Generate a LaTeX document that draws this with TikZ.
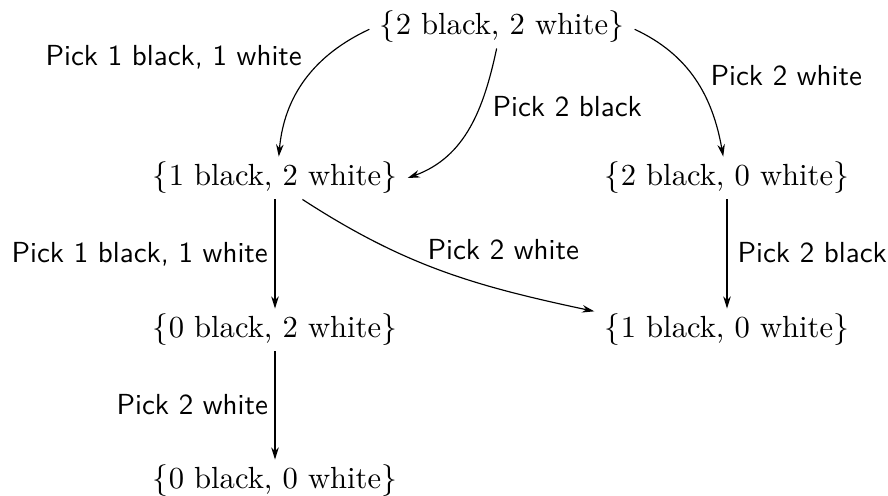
\documentclass[tikz,border=0pt]{standalone}
\usetikzlibrary{arrows.meta}
\tikzset{
  state/.style={font=\fontsize{10.55pt}{12pt}\selectfont, inner xsep=3.45pt, inner ysep=1.72pt},
  lbl/.style={font=\sffamily\fontsize{10pt}{12pt}\selectfont, inner sep=0pt, anchor=base west},
  arr/.style={-{Stealth[length=4.2pt,width=2.6pt]}, line width=0.4pt},
}
\begin{document}
\begin{tikzpicture}[x=0.3448pt,y=0.3448pt]
\useasboundingbox (0,0) rectangle (888,495);

% states: number of black and white balls left
\node[state] (s22) at (502,468) {$\{$2 black, 2 white$\}$};
\node[state] (s12) at (275,317) {$\{$1 black, 2 white$\}$};
\node[state] (s20) at (727,317) {$\{$2 black, 0 white$\}$};
\node[state] (s02) at (275,165) {$\{$0 black, 2 white$\}$};
\node[state] (s10) at (727,165) {$\{$1 black, 0 white$\}$};
\node[state] (s00) at (275,14)  {$\{$0 black, 0 white$\}$};

% transitions
\draw[arr] (s22.181) to[out=205,in=85] (s12.80);
\draw[arr] (s22.256) to[out=258,in=20] (s12.east);
\draw[arr] (s22.-1) to[out=-25,in=100] (s20.100);
\draw[arr] (s12.-38) to[out=-33,in=168] (s10.172);
\draw[arr] (s12) -- (s02);
\draw[arr] (s20) -- (s10);
\draw[arr] (s02) -- (s00);

% transition labels
\node[lbl] (l1) at (45,429) {Pick 1 black, 1 white};
\node[lbl] (l2) at (492,378) {Pick 2 black};
\node[lbl] (l3) at (710,409) {Pick 2 white};
\node[lbl] (l4) at (11,232) {Pick 1 black, 1 white};
\node[lbl] (l5) at (427,235) {Pick 2 white};
\node[lbl] (l6) at (737,232) {Pick 2 black};
\node[lbl] (l7) at (116,80) {Pick 2 white};
\end{tikzpicture}
\end{document}
